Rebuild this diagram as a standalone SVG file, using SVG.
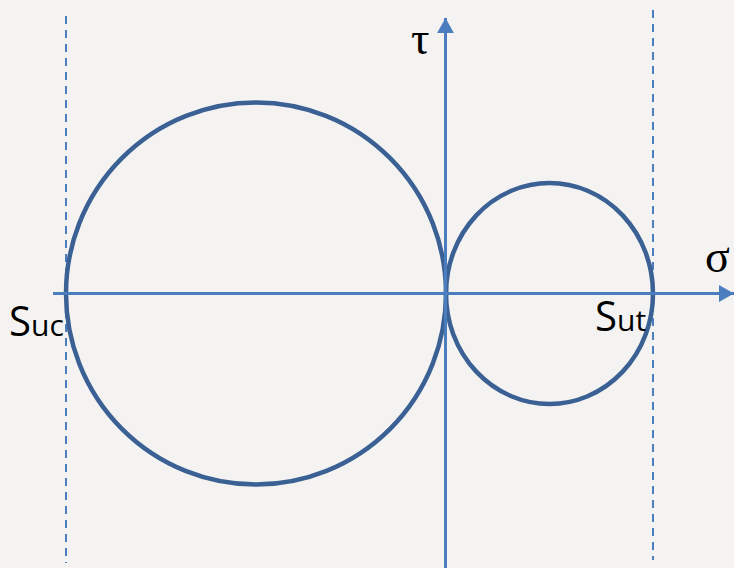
<svg xmlns="http://www.w3.org/2000/svg" width="734" height="568" viewBox="0 0 734 568">
<style>
.axis{stroke:#4a7ebf;stroke-width:3;fill:none}
.dash{stroke:#4a7ebf;stroke-width:2;stroke-dasharray:8 6;fill:none}
.circ{stroke:#3a6094;stroke-width:4.5;fill:none}
.greek{font-family:"Liberation Serif","DejaVu Serif",serif;font-size:46px;fill:#000}
.lab{font-family:"Open Sans","Liberation Sans",sans-serif;fill:#000}
</style>
<defs>
<marker id="arr" markerWidth="5" markerHeight="5.6" refX="5" refY="2.8" orient="auto" markerUnits="strokeWidth">
<path d="M0,0 L5,2.8 L0,5.6 Z" fill="#4a7ebf"/>
</marker>
</defs>
<rect width="734" height="568" fill="#f4f3f2"/>
<g id="guides">
<line class="dash" x1="66" y1="16" x2="66" y2="563"/>
<line class="dash" x1="653" y1="10" x2="653" y2="560"/>
</g>
<g id="circles">
<ellipse id="big" class="circ" cx="256" cy="293.5" rx="190" ry="191"/>
<ellipse id="small" class="circ" cx="549.5" cy="293.5" rx="103.5" ry="110.5"/>
</g>
<g id="axes">
<line class="axis" x1="53" y1="293.5" x2="734" y2="293.5" marker-end="url(#arr)"/>
<line class="axis" x1="445.5" y1="568" x2="445.5" y2="18" marker-end="url(#arr)"/>
</g>
<g id="labels">
<text class="greek" x="411" y="54">τ</text>
<text class="greek" x="705" y="272">σ</text>
<text class="lab" x="9" y="336"><tspan font-size="42" textLength="22" lengthAdjust="spacingAndGlyphs">S</tspan><tspan font-size="30">uc</tspan></text>
<text class="lab" x="595" y="331"><tspan font-size="42" textLength="22" lengthAdjust="spacingAndGlyphs">S</tspan><tspan font-size="30">ut</tspan></text>
</g>
</svg>
